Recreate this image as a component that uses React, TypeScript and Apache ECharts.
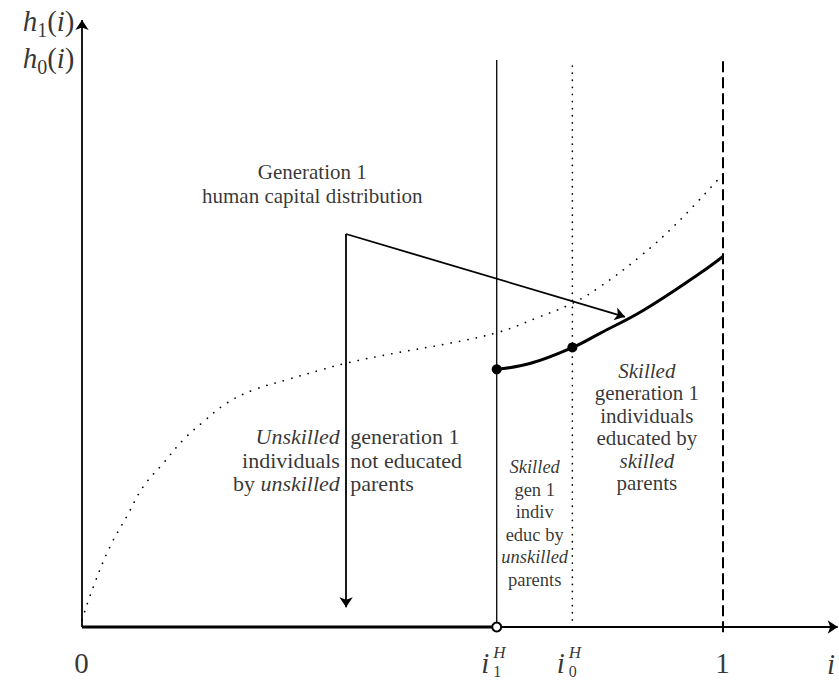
import React, { useEffect, useRef } from "react";
import * as echarts from "echarts";

// ---- values (x: share of individuals, y: human capital) ----
const iH1 = 0.647;
const iH0 = 0.765;
const h0Curve: [number, number][] = [
  [0, 0.012], [0.0176, 0.067], [0.0437, 0.134], [0.0697, 0.184], [0.0956, 0.234],
  [0.1268, 0.273], [0.158, 0.312], [0.1892, 0.342], [0.2257, 0.373], [0.2672, 0.395],
  [0.3193, 0.412], [0.3713, 0.428], [0.413, 0.44], [0.496, 0.458], [0.574, 0.473],
  [0.652, 0.492], [0.709, 0.515], [0.766, 0.54], [0.808, 0.567],
  [0.87, 0.617], [0.928, 0.673], [1.0, 0.755],
];
const h1Curve: [number, number][] = [
  [0.647, 0.4295], [0.70, 0.4395], [0.7655, 0.466], [0.808, 0.4895],
  [0.876, 0.528], [0.964, 0.5895], [1.0, 0.6175],
];
const h1Zero: [number, number][] = [[0, 0], [iH1, 0]];
const xAxisEnds: [number, number][] = [[0, 0], [1.179, 0]];
const yAxisEnds: [number, number][] = [[0, 0], [0, 1.0117]];
const lineI1: [number, number][] = [[iH1, 0], [iH1, 0.945]];
const lineI0: [number, number][] = [[iH0, 0], [iH0, 0.935]];
const lineOne: [number, number][] = [[1, 0.943], [1, -0.012]];
const arrowCorner: [number, number] = [0.412, 0.655];
const arrowDownEnd: [number, number] = [0.412, 0.033];
const arrowRightEnd: [number, number] = [0.847, 0.517];
const filledDots: [number, number][] = [[iH1, 0.4295], [iH0, 0.466]];
const openDot: [number, number][] = [[iH1, 0]];

// tick labels
const tickValues = [0, iH1, iH0, 1];
const tickNames = ["0", "i", "i", "1"];
const tickSup = ["", "H", "H", ""];
const tickSub = ["", "1", "0", ""];
const tickRowY = -0.06;

// annotation texts
const genLines = ["Generation 1", "human capital distribution"];
const leftLines = ["{it|Unskilled}", "individuals", "by {it|unskilled}"];
const leftRightLines = ["generation 1", "not educated", "parents"];
const midLines = ["{it|Skilled}", "gen 1", "indiv", "educ by", "{it|unskilled}", "parents"];
const rightLines = ["{it|Skilled}", "generation 1", "individuals", "educated by", "{it|skilled}", "parents"];
const yLabelLines = ["{h|h}{s|1}{p|(}{h|i}{p|)}", "{h|h}{s|0}{p|(}{h|i}{p|)}"];
const xName = "i";

const SERIF = "Liberation Serif";

function richFor(size: number, lh: number) {
  return {
    it: { fontStyle: "italic", fontFamily: SERIF, fontSize: size, lineHeight: lh, color: "#000" },
  };
}

function textItem(pos: [number, number], lines: string[], align: string, size: number, lh: number) {
  return {
    value: pos,
    label: {
      show: true,
      position: [0, 0],
      align,
      verticalAlign: "middle",
      fontFamily: SERIF,
      fontSize: size,
      lineHeight: lh,
      color: "#000",
      formatter: lines.join("\n"),
      rich: richFor(size, lh),
    },
  };
}

function simpleItem(
  pos: [number, number],
  text: string,
  opts: { size: number; italic?: boolean; dx?: number; dy?: number; align?: string; lh?: number }
) {
  return {
    value: pos,
    label: {
      show: true,
      position: [0, 0],
      offset: [opts.dx || 0, opts.dy || 0],
      align: opts.align || "center",
      verticalAlign: "middle",
      fontFamily: SERIF,
      fontSize: opts.size,
      lineHeight: opts.lh || opts.size,
      fontStyle: opts.italic ? "italic" : "normal",
      color: "#000",
      formatter: text,
    },
  };
}

export default function App() {
  const ref = useRef<HTMLDivElement>(null);
  useEffect(() => {
    if (!ref.current) return;
    const chart = echarts.init(ref.current, undefined, { renderer: "svg" });

    const labelData: any[] = [];
    tickValues.forEach((v, k) => {
      const isLetter = tickNames[k] === "i";
      if (isLetter) {
        labelData.push(
          simpleItem([v, tickRowY], tickNames[k], { size: 29, italic: true, dx: -7, align: "right", lh: 26 })
        );
      } else {
        labelData.push(simpleItem([v, tickRowY], tickNames[k], { size: 29, lh: 26 }));
      }
      if (tickSup[k]) {
        labelData.push(
          simpleItem([v, tickRowY], tickSup[k], { size: 17, italic: true, dx: -3, dy: -10, align: "left", lh: 14 })
        );
      }
      if (tickSub[k]) {
        labelData.push(
          simpleItem([v, tickRowY], tickSub[k], { size: 16, dx: -3, dy: 9, align: "left", lh: 14 })
        );
      }
    });
    labelData.push(simpleItem([1.163, -0.063], xName, { size: 29, italic: true, align: "left", lh: 26 }));

    labelData.push(textItem([0.36, 0.7375], genLines, "center", 21, 24));
    labelData.push(textItem([0.403, 0.2767], leftLines, "right", 22, 23.5));
    labelData.push(textItem([0.4193, 0.2767], leftRightLines, "left", 22, 23.5));
    labelData.push(textItem([0.707, 0.172], midLines, "center", 18.5, 22.5));
    labelData.push(textItem([0.882, 0.3325], rightLines, "center", 21, 22.5));

    labelData.push({
      value: [-0.0109, 0.978],
      label: {
        show: true,
        position: [0, 0],
        align: "right",
        verticalAlign: "middle",
        fontFamily: SERIF,
        fontSize: 29,
        lineHeight: 37,
        color: "#000",
        formatter: yLabelLines.join("\n"),
        rich: {
          h: { fontFamily: SERIF, fontStyle: "italic", fontSize: 29, lineHeight: 37, color: "#000" },
          p: { fontFamily: SERIF, fontSize: 29, lineHeight: 37, color: "#000" },
          s: { fontFamily: SERIF, fontSize: 20, lineHeight: 20, verticalAlign: "bottom", color: "#000" },
        },
      },
    });

    const plainLine = (data: [number, number][], width: number, type: any = "solid", z = 2) => ({
      type: "line",
      data,
      symbol: "none",
      silent: true,
      clip: false,
      lineStyle: { color: "#000", width, type },
      z,
    });

    const option: any = {
      animation: false,
      backgroundColor: "#fff",
      textStyle: { fontFamily: SERIF },
      grid: { left: 0, right: 0, top: 0, bottom: 0, containLabel: false },
      xAxis: { type: "value", min: -82 / 641, max: 757 / 641, show: false },
      yAxis: { type: "value", min: -56 / 600, max: 627 / 600, show: false },
      series: [
        {
          type: "line",
          data: h0Curve,
          symbol: "none",
          silent: true,
          smooth: 0.4,
          lineStyle: { color: "#000", width: 1.7, type: [0.1, 8.5], cap: "round" },
          z: 2,
        },
        plainLine(lineI1, 1.3),
        {
          type: "line",
          data: lineI0,
          symbol: "none",
          silent: true,
          lineStyle: { color: "#000", width: 1.7, type: [0.1, 7], cap: "round" },
          z: 2,
        },
        plainLine(lineOne, 2, [11, 5]),
        plainLine(h1Zero, 3),
        {
          type: "line",
          data: h1Curve,
          symbol: "none",
          silent: true,
          smooth: 0.4,
          lineStyle: { color: "#000", width: 3 },
          z: 3,
        },
        {
          type: "lines",
          coordinateSystem: "cartesian2d",
          silent: true,
          symbol: ["none", "arrow"],
          symbolSize: 10,
          lineStyle: { color: "#000", width: 1.8, opacity: 1, curveness: 0 },
          data: [{ coords: xAxisEnds }, { coords: yAxisEnds }],
          z: 2,
        },
        {
          type: "lines",
          coordinateSystem: "cartesian2d",
          silent: true,
          symbol: ["none", "arrow"],
          symbolSize: 10,
          lineStyle: { color: "#000", width: 1.8, opacity: 1, curveness: 0 },
          data: [{ coords: [arrowCorner, arrowDownEnd] }, { coords: [arrowCorner, arrowRightEnd] }],
          z: 3,
        },
        {
          type: "scatter",
          data: filledDots,
          symbol: "circle",
          symbolSize: 10,
          silent: true,
          itemStyle: { color: "#000", opacity: 1 },
          z: 4,
        },
        {
          type: "scatter",
          data: openDot,
          symbol: "circle",
          symbolSize: 9,
          silent: true,
          itemStyle: { color: "#fff", borderColor: "#000", borderWidth: 2, opacity: 1 },
          z: 5,
        },
        {
          type: "scatter",
          data: labelData,
          symbol: "circle",
          symbolSize: 1,
          silent: true,
          clip: false,
          itemStyle: { color: "rgba(0,0,0,0)" },
          z: 6,
        },
      ],
    };
    chart.setOption(option);
    return () => chart.dispose();
  }, []);
  return (
    <div
      ref={ref}
      style={{ position: "fixed", left: 0, top: 0, width: 839, height: 683, background: "#fff" }}
    />
  );
}
